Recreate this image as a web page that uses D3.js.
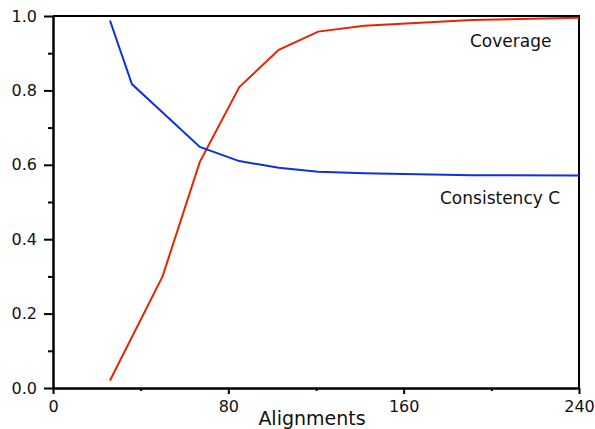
<!DOCTYPE html>
<html lang="en">
<head>
    <meta charset="UTF-8">
    <title>Coverage and consistency vs alignments</title>
    <script src="https://d3js.org/d3.v7.min.js"></script>
    <style>
        body {
            margin: 0;
            background: #fff;
            font-family: "DejaVu Sans", sans-serif;
        }
        .axis text {
            font-family: "DejaVu Sans", sans-serif;
            font-size: 16px;
            fill: #111;
        }
        .axis line, .axis path {
            stroke: #000;
            stroke-width: 2px;
        }
        .line {
            fill: none;
            stroke-width: 2px;
        }
        .note {
            font-size: 17px;
            fill: #111;
        }
    </style>
</head>
<body>
    <div id="chart"></div>
    <script>
        // values
        const coverageX = [26, 50, 67, 85, 103, 121, 142, 191, 240];
        const coverageY = [0.02, 0.30, 0.608, 0.809, 0.909, 0.958, 0.974, 0.989, 0.995];
        const consistencyX = [26, 36, 67, 85, 103, 121, 142, 191, 240];
        const consistencyY = [0.988, 0.817, 0.648, 0.610, 0.592, 0.581, 0.577, 0.572, 0.571];
        const xTicks = [0, 80, 160, 240];
        const xMinorTicks = [40, 120, 200];
        const yTicks = [0, 0.2, 0.4, 0.6, 0.8, 1.0];
        const yMinorTicks = [0.1, 0.3, 0.5, 0.7, 0.9];

        const width = 595, height = 429;
        const margin = { top: 16, right: 16, bottom: 41, left: 53 };

        const x = d3.scaleLinear().domain([0, 240]).range([margin.left, width - margin.right]);
        const y = d3.scaleLinear().domain([0, 1]).range([height - margin.bottom, margin.top]);

        const svg = d3.select("#chart").append("svg")
            .attr("width", width)
            .attr("height", height);

        // frame (top and right)
        svg.append("path")
            .attr("d", `M${x(0)},${y(1)}H${x(240)}V${y(0)}`)
            .attr("fill", "none")
            .attr("stroke", "#000")
            .attr("stroke-width", 2);

        // minor ticks first, then the main axes on top
        svg.append("g")
            .attr("class", "axis")
            .attr("transform", `translate(${margin.left},0)`)
            .call(d3.axisLeft(y).tickValues(yMinorTicks).tickSize(5).tickSizeOuter(0).tickFormat(""));

        svg.append("g")
            .attr("class", "axis")
            .attr("transform", `translate(0,${y(0)})`)
            .call(d3.axisBottom(x).tickValues(xMinorTicks).tickSize(3).tickSizeOuter(0).tickFormat(""));

        svg.append("g")
            .attr("class", "axis")
            .attr("transform", `translate(${margin.left},0)`)
            .call(d3.axisLeft(y).tickValues(yTicks).tickSize(9).tickSizeOuter(0)
                .tickPadding(7).tickFormat(d3.format(".1f")));

        svg.append("g")
            .attr("class", "axis")
            .attr("transform", `translate(0,${y(0)})`)
            .call(d3.axisBottom(x).tickValues(xTicks).tickSize(6).tickSizeOuter(0).tickPadding(7));

        svg.append("text")
            .attr("x", 312)
            .attr("y", 425)
            .attr("text-anchor", "middle")
            .attr("font-size", "19px")
            .attr("fill", "#111")
            .text("Alignments");

        const line = d3.line()
            .x(d => x(d[0]))
            .y(d => y(d[1]));

        svg.append("path")
            .datum(coverageX.map((v, i) => [v, coverageY[i]]))
            .attr("class", "line")
            .attr("stroke", "#e82300")
            .attr("d", line);

        svg.append("path")
            .datum(consistencyX.map((v, i) => [v, consistencyY[i]]))
            .attr("class", "line")
            .attr("stroke", "#1030e0")
            .attr("d", line);

        svg.append("text")
            .attr("class", "note")
            .attr("x", 470)
            .attr("y", 47)
            .text("Coverage");

        svg.append("text")
            .attr("class", "note")
            .attr("x", 440)
            .attr("y", 204)
            .text("Consistency C");
    </script>
</body>
</html>
